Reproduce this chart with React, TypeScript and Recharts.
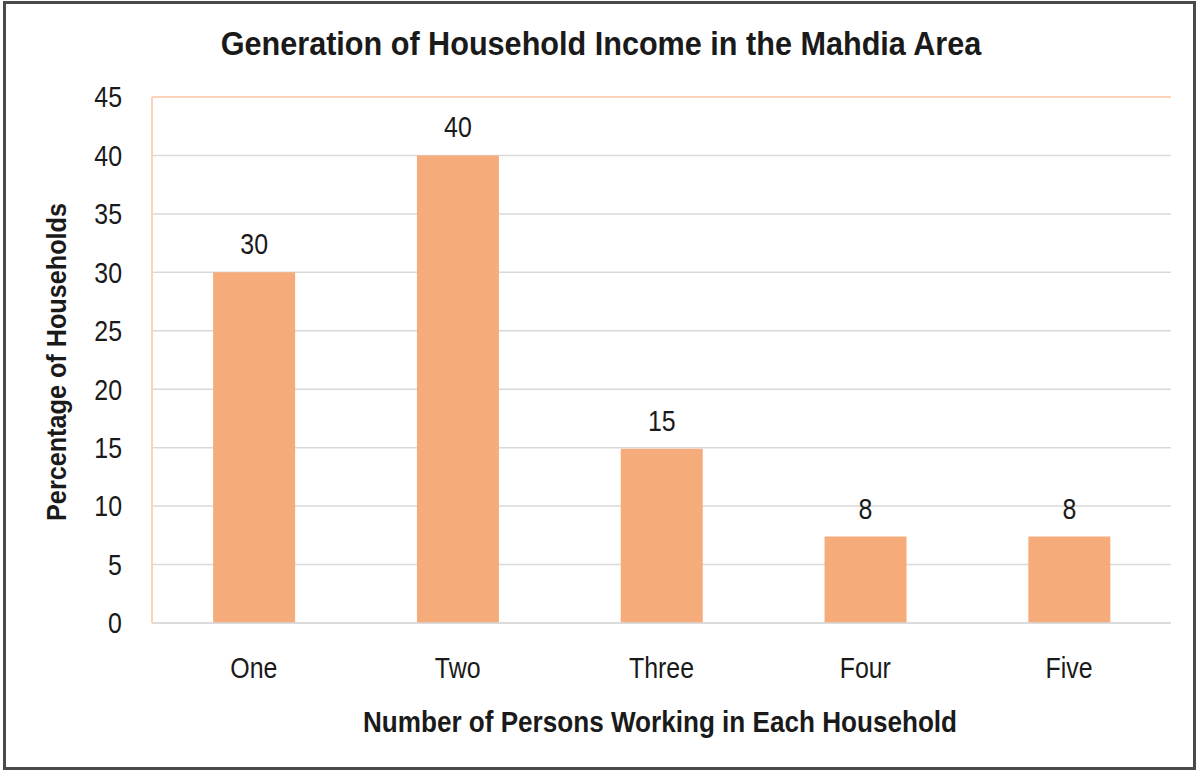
import React from "react";
import {
  Bar,
  BarChart,
  CartesianGrid,
  LabelList,
  ReferenceLine,
  XAxis,
  YAxis,
} from "recharts";

const categories = ["One", "Two", "Three", "Four", "Five"];
const households = [30, 40, 14.9, 7.4, 7.4];
const valueLabels = ["30", "40", "15", "8", "8"];
const yTicks = [0, 5, 10, 15, 20, 25, 30, 35, 40, 45];

const data = categories.map((name, i) => ({
  name,
  value: households[i],
  label: valueLabels[i],
}));

const FONT = "'Liberation Sans', Arial, sans-serif";
const INK = "#1a1a1a";
const PEACH = "#fad3b8";
const GRID = "#d9d9d9";
const SQUEEZE = 0.86; // no narrow font installed, so squeeze Liberation Sans

// tick text squeezed horizontally, anchored like the default ones
function NarrowTick(props: any) {
  const { x, y, payload, textAnchor, dy } = props;
  return (
    <g transform={`translate(${x},${y})`}>
      <text
        transform={`scale(${SQUEEZE},1)`}
        textAnchor={textAnchor}
        dy={dy}
        fontSize={29}
        fontFamily={FONT}
        fill={INK}
      >
        {payload.value}
      </text>
    </g>
  );
}

function ValueLabel(props: any) {
  const { x, y, width, value } = props;
  return (
    <g transform={`translate(${x + width / 2},${y - 18})`}>
      <text transform={`scale(${SQUEEZE},1)`} textAnchor="middle" fontSize={29} fontFamily={FONT} fill={INK}>
        {value}
      </text>
    </g>
  );
}

const htmlTitle = (scale: number): React.CSSProperties => ({
  position: "absolute",
  textAlign: "center",
  fontWeight: "bold",
  color: INK,
  whiteSpace: "nowrap",
  transform: `scaleX(${scale})`,
});

export default function App() {
  return (
    <div style={{ position: "absolute", left: 0, top: 0, width: 1200, height: 773, background: "#fff", fontFamily: FONT }}>
      <div
        style={{
          position: "absolute",
          left: 3,
          top: 1,
          width: 1193,
          height: 769,
          boxSizing: "border-box",
          border: "3px solid #4a4a4a",
        }}
      />
      <div style={{ ...htmlTitle(0.9), left: 0, width: 1202, top: 22, fontSize: 34, lineHeight: "42px" }}>
        Generation of Household Income in the Mahdia Area
      </div>
      <div style={{ ...htmlTitle(0.9), left: 0, width: 1320, top: 704, fontSize: 29, lineHeight: "36px" }}>
        Number of Persons Working in Each Household
      </div>
      <div
        style={{
          ...htmlTitle(1),
          left: 57 - 250,
          top: 362 - 18,
          width: 500,
          fontSize: 28,
          lineHeight: "36px",
          transform: "rotate(-90deg) scaleX(0.9)",
        }}
      >
        Percentage of Households
      </div>
      <div style={{ position: "absolute", left: 0, top: 0 }}>
        <BarChart
          width={1200}
          height={773}
          data={data}
          margin={{ top: 97, right: 29, bottom: 90, left: 92 }}
          barCategoryGap="30%"
        >
          <CartesianGrid vertical={false} stroke={GRID} strokeWidth={1.5} />
          <XAxis
            dataKey="name"
            height={60}
            axisLine={{ stroke: GRID, strokeWidth: 1.5 }}
            tickLine={false}
            tickMargin={28}
            tick={<NarrowTick dy="0.71em" />}
          />
          <YAxis
            width={60}
            domain={[0, 45]}
            ticks={yTicks}
            interval={0}
            axisLine={{ stroke: PEACH, strokeWidth: 2 }}
            tickLine={false}
            tickMargin={24}
            tick={<NarrowTick dy="0.355em" />}
          />
          <YAxis
            yAxisId="r"
            orientation="right"
            width={0}
            domain={[0, 45]}
            ticks={yTicks}
            axisLine={{ stroke: PEACH, strokeWidth: 2 }}
            tickLine={false}
            tick={false}
          />
          <ReferenceLine y={45} stroke={PEACH} strokeWidth={2} />
          <Bar dataKey="value" fill="#f5ac7a" isAnimationActive={false}>
            <LabelList dataKey="label" content={<ValueLabel />} />
          </Bar>
        </BarChart>
      </div>
    </div>
  );
}
